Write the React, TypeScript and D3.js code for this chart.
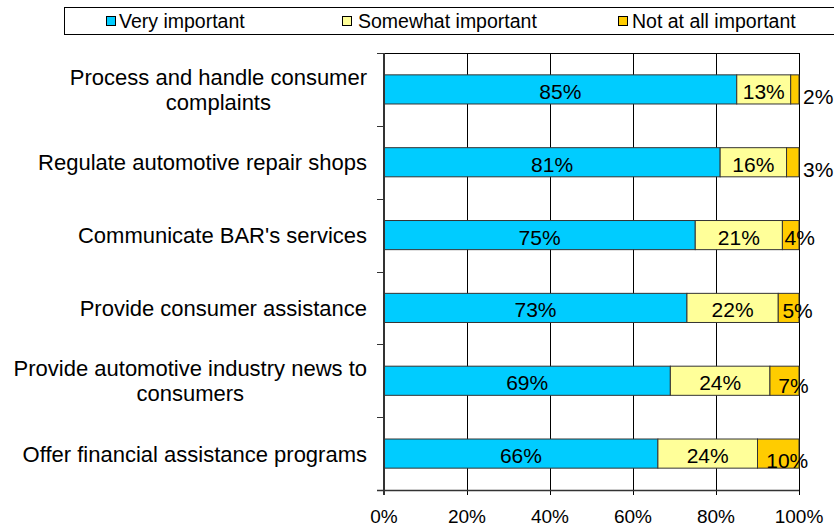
import React, { useEffect, useRef } from "react";
import * as d3 from "d3";

const categories = [
  "Process and handle consumer complaints",
  "Regulate automotive repair shops",
  "Communicate BAR's services",
  "Provide consumer assistance",
  "Provide automotive industry news to consumers",
  "Offer financial assistance programs",
];
const veryImportant = [85, 81, 75, 73, 69, 66];
const somewhatImportant = [13, 16, 21, 22, 24, 24];
const notAtAllImportant = [2, 3, 4, 5, 7, 10];
const seriesNames = ["Very important", "Somewhat important", "Not at all important"];
const seriesColors = ["#00CCFF", "#FFFF99", "#FFCC00"];
const xTicks = [0, 20, 40, 60, 80, 100];

const W = 834;
const H = 527;
const M = { left: 384, top: 53, right: 35, bottom: 37 };
const FONT = "'Liberation Sans', Arial, sans-serif";

export default function App() {
  const ref = useRef<SVGSVGElement>(null);

  useEffect(() => {
    const svg = d3.select(ref.current);
    svg.selectAll("*").remove();

    const x = d3.scaleLinear().domain([0, 100]).range([M.left, W - M.right]);
    const y = d3
      .scaleBand<string>()
      .domain(categories)
      .range([M.top, H - M.bottom])
      .paddingInner(0.6)
      .paddingOuter(0.3);

    const series = [veryImportant, somewhatImportant, notAtAllImportant];
    const rows = categories.map((c, i) => {
      let acc = 0;
      return series.map((s, k) => {
        const start = acc;
        acc += s[i];
        return { cat: c, k, v: s[i], start, end: acc };
      });
    });

    // Legend
    const lg = svg.append("g");
    lg.append("rect")
      .attr("x", 64.5)
      .attr("y", 7.5)
      .attr("width", 800)
      .attr("height", 27)
      .attr("fill", "#fff")
      .attr("stroke", "#000");
    const legendSq = [106, 342, 618];
    const legendTx = [119, 358, 632];
    seriesNames.forEach((n, k) => {
      lg.append("rect")
        .attr("x", legendSq[k] + 0.5)
        .attr("y", 16.5)
        .attr("width", 9)
        .attr("height", 9)
        .attr("fill", seriesColors[k])
        .attr("stroke", "#000");
      lg.append("text")
        .attr("x", legendTx[k])
        .attr("y", 27.5)
        .attr("font-family", FONT)
        .attr("font-size", 19.5)
        .text(n);
    });

    const y0 = M.top;
    const y1 = H - M.bottom;
    const x0 = x(0);
    const x1 = x(100);

    // gridlines + x ticks
    const grid = svg.append("g");
    xTicks.forEach((t) => {
      grid
        .append("line")
        .attr("x1", Math.round(x(t)) + 0.5)
        .attr("x2", Math.round(x(t)) + 0.5)
        .attr("y1", y0)
        .attr("y2", y1 + 5)
        .attr("stroke", "#000");
    });
    // top border
    grid
      .append("line")
      .attr("x1", x0 - 7)
      .attr("x2", x1)
      .attr("y1", y0 + 0.5)
      .attr("y2", y0 + 0.5)
      .attr("stroke", "#000");

    // bars
    const bars = svg.append("g");
    rows.flat().forEach((d) => {
      bars
        .append("rect")
        .attr("x", x(d.start))
        .attr("y", y(d.cat)!)
        .attr("width", x(d.end) - x(d.start))
        .attr("height", y.bandwidth())
        .attr("fill", seriesColors[d.k])
        .attr("stroke", "#333")
        .attr("stroke-width", 1);
    });

    // axes
    svg
      .append("line")
      .attr("x1", x0 - 7)
      .attr("x2", x1)
      .attr("y1", y1 + 0.5)
      .attr("y2", y1 + 0.5)
      .attr("stroke", "#333")
      .attr("stroke-width", 1.5);
    svg
      .append("line")
      .attr("x1", x0)
      .attr("x2", x0)
      .attr("y1", y0)
      .attr("y2", y1 + 5)
      .attr("stroke", "#333")
      .attr("stroke-width", 2);
    const step = y.step();
    for (let i = 0; i <= categories.length; i++) {
      const yy = Math.round(y0 + i * step) + 0.5;
      svg
        .append("line")
        .attr("x1", x0 - 7)
        .attr("x2", x0)
        .attr("y1", yy)
        .attr("y2", yy)
        .attr("stroke", "#333");
    }

    // x tick labels
    xTicks.forEach((t) => {
      svg
        .append("text")
        .attr("x", x(t))
        .attr("y", 523)
        .attr("text-anchor", "middle")
        .attr("font-family", FONT)
        .attr("font-size", 19)
        .text(`${t}%`);
    });

    // value labels
    rows.flat().forEach((d) => {
      const w = x(d.end) - x(d.start);
      const cy = y(d.cat)! + y.bandwidth() / 2;
      const t = svg
        .append("text")
        .attr("font-family", FONT)
        .attr("font-size", 21)
        .text(`${d.v}%`);
      if (d.k === 2) {
        if (w < 15) {
          t.attr("x", x(d.end) + 4).attr("y", cy + 15).attr("text-anchor", "start");
        } else {
          t.attr("x", (x(d.start) + x(d.end)) / 2 + 9)
            .attr("y", cy + 9.5 + Math.max(0, (w - 20) / 4))
            .attr("text-anchor", "middle");
        }
      } else {
        t.attr("x", (x(d.start) + x(d.end)) / 2)
          .attr("y", cy + 9.5)
          .attr("text-anchor", "middle");
      }
    });

    // category labels with wrapping
    const maxW = 356;
    const labelRight = x0 - 17;
    categories.forEach((c) => {
      const cy = y(c)! + y.bandwidth() / 2;
      const probe = svg
        .append("text")
        .attr("font-family", FONT)
        .attr("font-size", 22);
      const words = c.split(" ");
      const lines: string[] = [];
      let cur = "";
      words.forEach((wd) => {
        const test = cur ? cur + " " + wd : wd;
        probe.text(test);
        const len = (probe.node() as SVGTextElement).getComputedTextLength();
        if (len > maxW && cur) {
          lines.push(cur);
          cur = wd;
        } else cur = test;
      });
      if (cur) lines.push(cur);
      let widest = 0;
      lines.forEach((l) => {
        probe.text(l);
        widest = Math.max(widest, (probe.node() as SVGTextElement).getComputedTextLength());
      });
      probe.remove();
      const lh = 25;
      const first = cy + 8 - ((lines.length - 1) * lh) / 2;
      lines.forEach((l, i) => {
        const t = svg
          .append("text")
          .attr("font-family", FONT)
          .attr("font-size", 22)
          .attr("y", first + i * lh)
          .text(l);
        if (lines.length > 1) {
          t.attr("x", labelRight - widest / 2).attr("text-anchor", "middle");
        } else {
          t.attr("x", labelRight).attr("text-anchor", "end");
        }
      });
    });
  }, []);

  return (
    <svg
      ref={ref}
      width={W}
      height={H}
      style={{ position: "fixed", left: 0, top: 0, background: "#fff" }}
    />
  );
}
